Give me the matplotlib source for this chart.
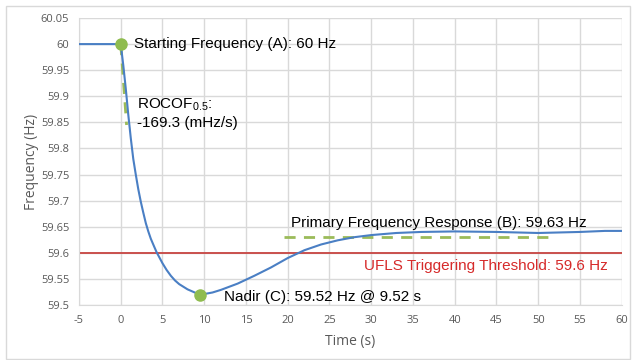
import numpy as np
import matplotlib
matplotlib.use("Agg")
import matplotlib.pyplot as plt
from matplotlib.patches import Rectangle

plt.rcParams["mathtext.fontset"] = "custom"
plt.rcParams["mathtext.rm"] = "Liberation Sans"
plt.rcParams["axes.unicode_minus"] = False

# frequency trace after the event (s, Hz)
time_s = [-5, 0, 0.3, 0.6, 0.9, 1.2, 1.5, 1.8, 2.1, 2.4, 2.7, 3.0, 3.3, 3.6,
          4.0, 4.3, 4.7, 5, 5.5, 6, 6.5, 7, 8, 9, 9.52, 10, 11, 12, 14, 16,
          18, 20, 22, 24, 26, 28, 30, 33, 36, 40, 45, 50, 55, 58, 60]
freq_hz = [60, 60, 59.96, 59.915, 59.865, 59.82, 59.78, 59.75, 59.722, 59.698,
           59.677, 59.657, 59.641, 59.627, 59.612, 59.601, 59.589, 59.58,
           59.567, 59.556, 59.547, 59.54, 59.53, 59.523, 59.52, 59.521, 59.524,
           59.529, 59.541, 59.556, 59.572, 59.59, 59.605, 59.616, 59.624, 59.63,
           59.634, 59.638, 59.64, 59.641, 59.64, 59.638, 59.64, 59.642, 59.642]

start_t, start_f = 0, 60
nadir_t, nadir_f = 9.52, 59.52
ufls_f = 59.6
pfr_f = 59.63
pfr_span = [19.5, 52]
rocof_t = [0, 0.7]
rocof_f = [60, 59.845]

xticks = np.arange(-5, 61, 5)
yticks = [59.5, 59.55, 59.6, 59.65, 59.7, 59.75, 59.8, 59.85, 59.9, 59.95, 60, 60.05]

blue = "#4a7fc4"
green = "#9bbb59"
gray = "#595959"

fig = plt.figure(figsize=(6.32, 3.6), dpi=100)
fig.patches.append(Rectangle((6 / 632, 1 / 360), 624 / 632, 353 / 360,
                             transform=fig.transFigure, fill=False,
                             edgecolor="#d9d9d9", lw=1))
ax = fig.add_axes([79 / 632, 1 - 305 / 360, (621.7 - 79) / 632, (305 - 18) / 360])

ax.axhline(ufls_f, color="#c9504d", lw=1.4, zorder=2)
ax.plot(pfr_span, [pfr_f, pfr_f], color=green, lw=2, dashes=(4, 3), zorder=3)
ax.plot(rocof_t, rocof_f, color=green, lw=2, dashes=(4, 3), zorder=3)
ax.plot(time_s, freq_hz, color=blue, lw=1.5, zorder=4)
ax.plot([start_t, nadir_t], [start_f, nadir_f], "o", color="#8fbc4f",
        ms=8, zorder=5)

txt = dict(family="Liberation Sans", fontsize=11, color="black", va="center")
ax.text(1.56, 60.0, "Starting Frequency (A): 60 Hz", **txt)
ax.text(1.9, 59.884, "ROCOF$_{0.5}$:", **txt)
ax.text(1.9, 59.848, "-169.3 (mHz/s)", **txt)
ax.text(20.4, 59.658, "Primary Frequency Response (B): 59.63 Hz", **txt)
ax.text(12.35, 59.516, "Nadir (C): 59.52 Hz @ 9.52 s", **txt)
ax.text(29.1, 59.574, "UFLS Triggering Threshold: 59.6 Hz",
        family="Liberation Sans", fontsize=11, color="#d62a2a", va="center")

ax.set_xlim(-5, 60)
ax.set_ylim(59.5, 60.05)
ax.set_xticks(xticks)
ax.set_yticks(yticks)
ax.set_yticklabels(["%g" % v for v in yticks])
ax.grid(True, color="#d9d9d9", lw=1)
ax.set_axisbelow(True)
for s in ["top", "right"]:
    ax.spines[s].set_visible(False)
for s in ["left", "bottom"]:
    ax.spines[s].set_color("#d9d9d9")
ax.tick_params(length=0, labelsize=8, labelcolor=gray, pad=7)
for lab in ax.get_xticklabels() + ax.get_yticklabels():
    lab.set_family("Open Sans")

ax.set_xlabel("Time (s)", family="Open Sans", fontsize=10, color=gray, labelpad=6)
ax.set_ylabel("Frequency (Hz)", family="Open Sans", fontsize=10, color=gray)
ax.yaxis.set_label_coords(-0.073, 0.5)

fig.savefig("out.png", dpi=100)
